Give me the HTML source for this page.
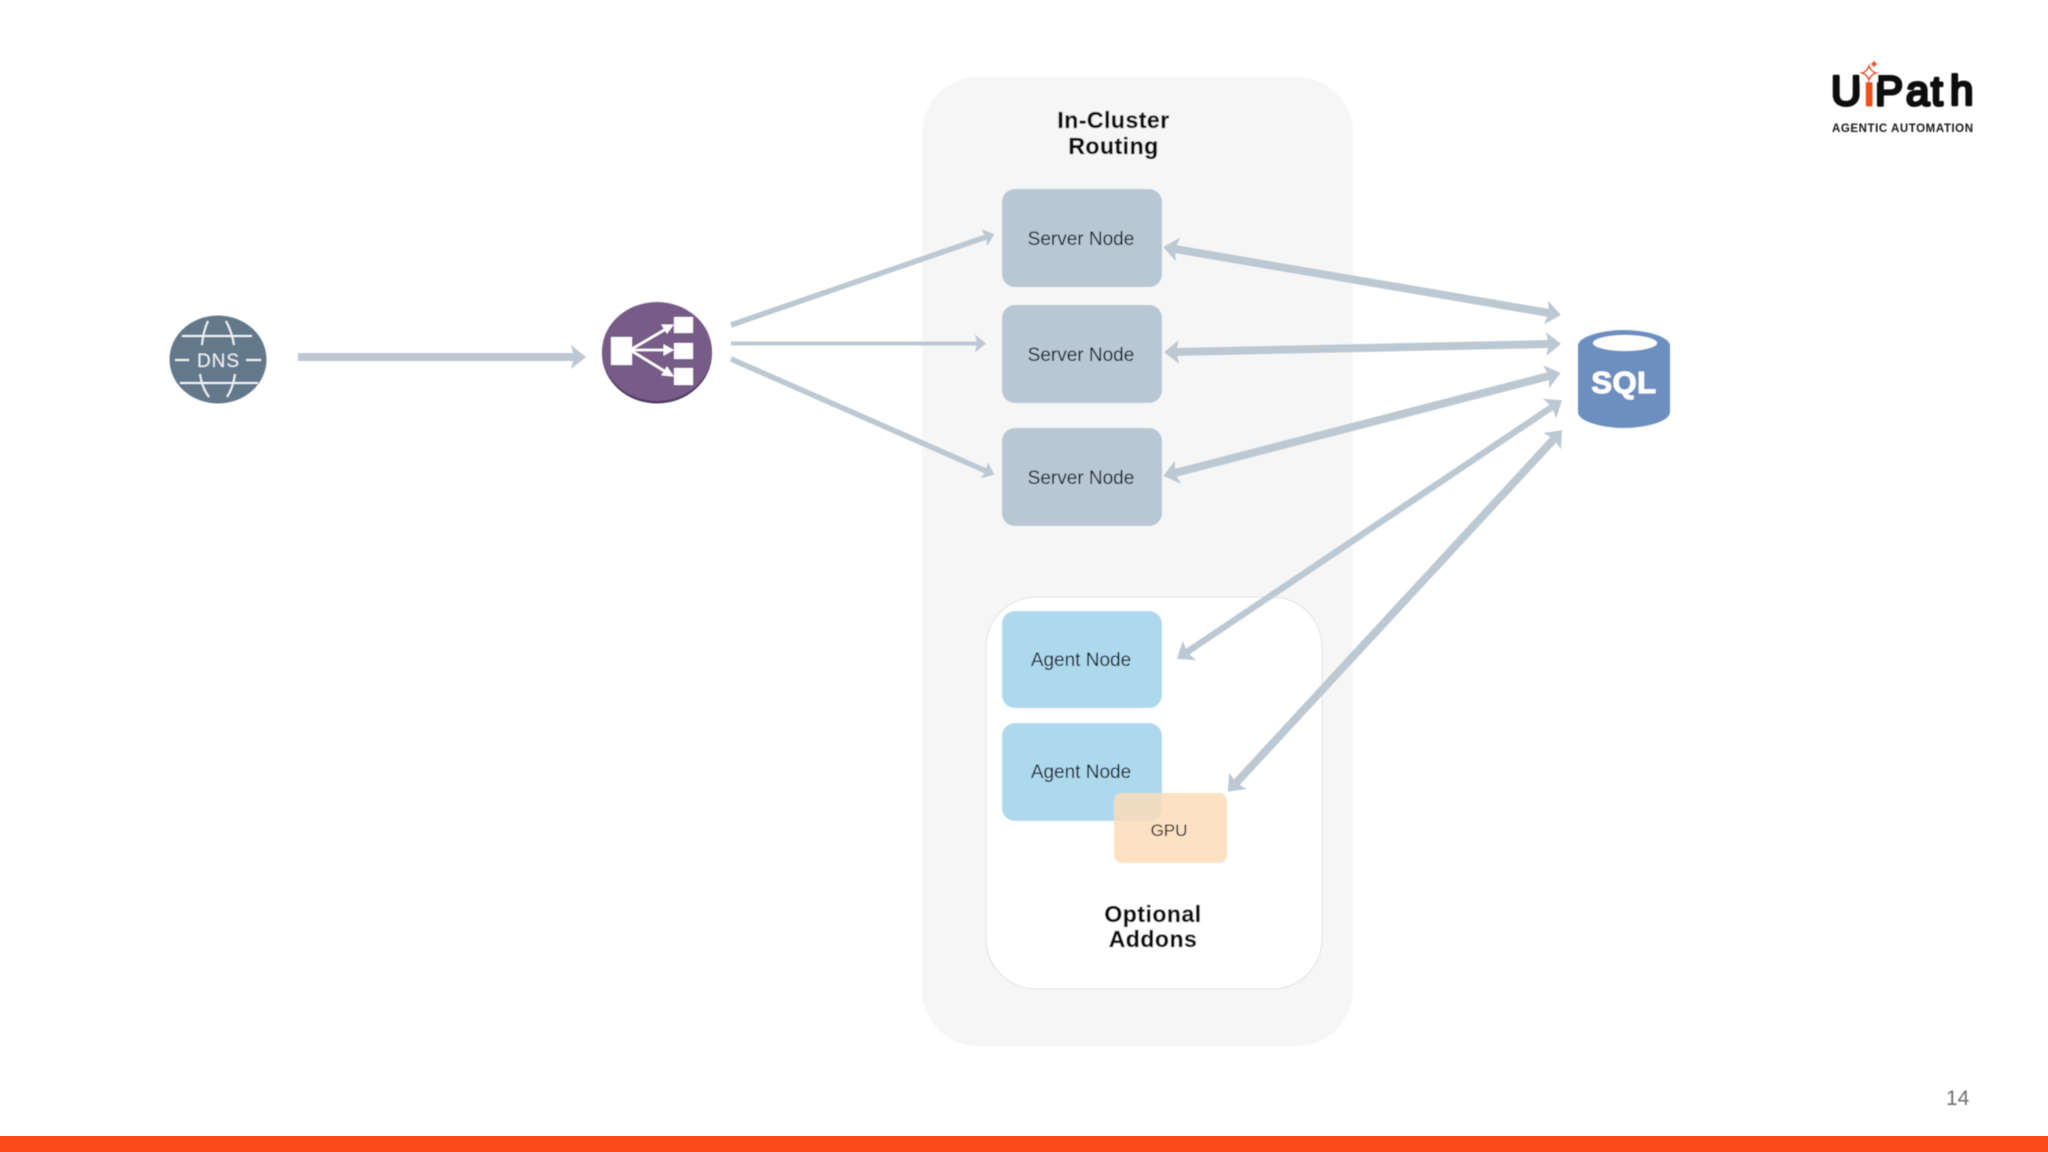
<!DOCTYPE html>
<html lang="en">
<head>
<meta charset="utf-8">
<title>In-Cluster Routing Diagram</title>
<style>
html,body{margin:0;padding:0;background:#fff;width:2048px;height:1152px;overflow:hidden}
svg{display:block}
text{font-family:"Liberation Sans",sans-serif}
</style>
</head>
<body>
<svg width="2048" height="1152" viewBox="0 0 2048 1152" xmlns="http://www.w3.org/2000/svg">
<defs>
<filter id="soft" x="-5%" y="-5%" width="110%" height="110%"><feGaussianBlur stdDeviation="0.45"/></filter>
<marker id="big" markerUnits="userSpaceOnUse" viewBox="0 -14 18 28" refX="3" refY="0" markerWidth="18" markerHeight="28" orient="auto-start-reverse">
<path d="M0,-12 L15,0 L0,12 L3,0 Z" fill="#bcc8d2"/>
</marker>
<marker id="small" markerUnits="userSpaceOnUse" viewBox="0 -10 12 20" refX="2" refY="0" markerWidth="12" markerHeight="20" orient="auto">
<path d="M0,-9 L11,0 L0,9 L2,0 Z" fill="#bcc8d2"/>
</marker>
</defs>
<rect width="2048" height="1152" fill="#fff"/>
<g filter="url(#soft)">
<!-- containers -->
<rect x="922" y="77" width="431" height="969" rx="56" ry="56" fill="#f6f6f7"/>
<rect x="986" y="597" width="336" height="392" rx="50" ry="50" fill="#fff" stroke="#e3e5e7" stroke-width="1.2"/>
<!-- nodes -->
<rect x="1002" y="189" width="160" height="98" rx="13" fill="#b8c7d3"/>
<rect x="1002" y="305" width="160" height="98" rx="13" fill="#b8c7d3"/>
<rect x="1002" y="428" width="160" height="98" rx="13" fill="#b8c7d3"/>
<rect x="1002" y="611" width="160" height="97" rx="13" fill="#aed9ed"/>
<rect x="1002" y="723" width="160" height="98" rx="13" fill="#aed9ed"/>
<rect x="1114" y="793" width="113" height="70" rx="8" fill="#fbdcb8" fill-opacity="0.85"/>
<!-- arrows -->
<g stroke="#bcc8d2" fill="none">
<line x1="298" y1="357" x2="574" y2="357" stroke-width="8" marker-end="url(#big)"/>
<line x1="731" y1="325" x2="986" y2="237" stroke-width="5.5" marker-end="url(#small)"/>
<line x1="731" y1="343.500" x2="977" y2="343.500" stroke-width="4" marker-end="url(#small)"/>
<line x1="731" y1="359" x2="986" y2="471" stroke-width="5.5" marker-end="url(#small)"/>
<line x1="1175" y1="249" x2="1549" y2="313" stroke-width="8" marker-start="url(#big)" marker-end="url(#big)"/>
<line x1="1176" y1="352" x2="1549" y2="344" stroke-width="8" marker-start="url(#big)" marker-end="url(#big)"/>
<line x1="1175" y1="473" x2="1549" y2="376" stroke-width="8" marker-start="url(#big)" marker-end="url(#big)"/>
<line x1="1187" y1="652" x2="1552" y2="407" stroke-width="6.500" marker-start="url(#big)" marker-end="url(#big)"/>
<line x1="1236" y1="783" x2="1554" y2="439" stroke-width="8" marker-start="url(#big)" marker-end="url(#big)"/>
</g>
<!-- DNS -->
<ellipse cx="218" cy="359.500" rx="48.500" ry="44" fill="#64788b"/>
<g stroke="#eef2f4" stroke-width="2" fill="none">
<line x1="182" y1="336" x2="252" y2="336"/>
<line x1="180" y1="383" x2="258" y2="383"/>
<line x1="175" y1="360" x2="189" y2="360"/>
<line x1="246" y1="360" x2="261" y2="360"/>
<path d="M208,321 Q203,332 202,345"/>
<path d="M226,321 Q232,332 234,345"/>
<path d="M200,374 Q202,388 209,397"/>
<path d="M235,374 Q233,388 227,397"/>
</g>
<text x="197" y="367" font-size="19" fill="#eef2f4" textLength="42" lengthAdjust="spacing">DNS</text>
<!-- Load balancer -->
<ellipse cx="657" cy="353.500" rx="55" ry="50" fill="#4f3e62"/>
<ellipse cx="657" cy="351.500" rx="55" ry="49.500" fill="#775b88"/>
<g fill="#fff">
<rect x="674" y="317" width="19" height="16"/>
<rect x="674" y="343" width="19" height="16"/>
<rect x="674" y="368" width="19" height="17"/>
<rect x="611" y="337" width="21" height="28"/>
</g>
<g stroke="#fff" stroke-width="2.600" fill="#fff">
<line x1="630" y1="350" x2="666" y2="329"/>
<line x1="630" y1="350" x2="666" y2="350"/>
<line x1="630" y1="350" x2="666" y2="372"/>
<path d="M673,325 L662,325 L667,333 Z" stroke-width="1"/>
<path d="M673,350 L664,345 L664,355 Z" stroke-width="1"/>
<path d="M673,376 L667,367 L662,375 Z" stroke-width="1"/>
</g>
<!-- SQL -->
<path d="M1578,346 C1578,336 1604,330 1624,330 C1644,330 1670,336 1670,346 L1670,412 C1670,422 1644,428 1624,428 C1604,428 1578,422 1578,412 Z" fill="#6d8fbf"/>
<ellipse cx="1625" cy="343" rx="32" ry="8" fill="#fff"/>
<text x="1624" y="393" text-anchor="middle" font-size="31" font-weight="700" fill="#fff" stroke="#fff" stroke-width="1" letter-spacing="0.500">SQL</text>
<!-- labels -->
<g font-size="19" text-anchor="middle" fill="#0b1720">
<text x="1081" y="245">Server Node</text>
<text x="1081" y="361">Server Node</text>
<text x="1081" y="484">Server Node</text>
<text x="1081" y="666">Agent Node</text>
<text x="1081" y="778">Agent Node</text>
</g>
<text x="1169" y="836" font-size="17" text-anchor="middle" fill="#1d1c19">GPU</text>
<g font-size="23" font-weight="700" text-anchor="middle" fill="#0c0c0c" stroke="#0c0c0c" stroke-width="0.250" letter-spacing="0.500">
<text x="1113.500" y="128">In-Cluster</text>
<text x="1113.500" y="154">Routing</text>
<text x="1153" y="922">Optional</text>
<text x="1153" y="947">Addons</text>
</g>
<!-- Logo -->
<text y="105" font-size="42" fill="#111" stroke="#111" stroke-width="3" stroke-linejoin="round" x="1831 1864.500 1875 1906 1931 1950">U<tspan fill="#f0501e" stroke="#f0501e">i</tspan>Path</text>
<rect x="1860" y="60" width="18" height="22" fill="#fff"/>
<path d="M1869,66 Q1871,71.500 1876,73 Q1871,74.500 1869,80 Q1867,74.500 1862,73 Q1867,71.500 1869,66 Z" fill="none" stroke="#e8532b" stroke-width="1.800"/>
<path d="M1874,60 Q1875,63 1878,64 Q1875,65 1874,68 Q1873,65 1870,64 Q1873,63 1874,60 Z" fill="#e8532b"/>
<text x="1832" y="132" font-size="11.500" font-weight="700" fill="#1a1a1a" textLength="141" lengthAdjust="spacing">AGENTIC AUTOMATION</text>
<!-- page number -->
<text x="1946" y="1105" font-size="21" fill="#6f6f6f">14</text>
</g>
<rect x="0" y="1136" width="2048" height="16" fill="#fb4a17"/>
</svg>
</body>
</html>
